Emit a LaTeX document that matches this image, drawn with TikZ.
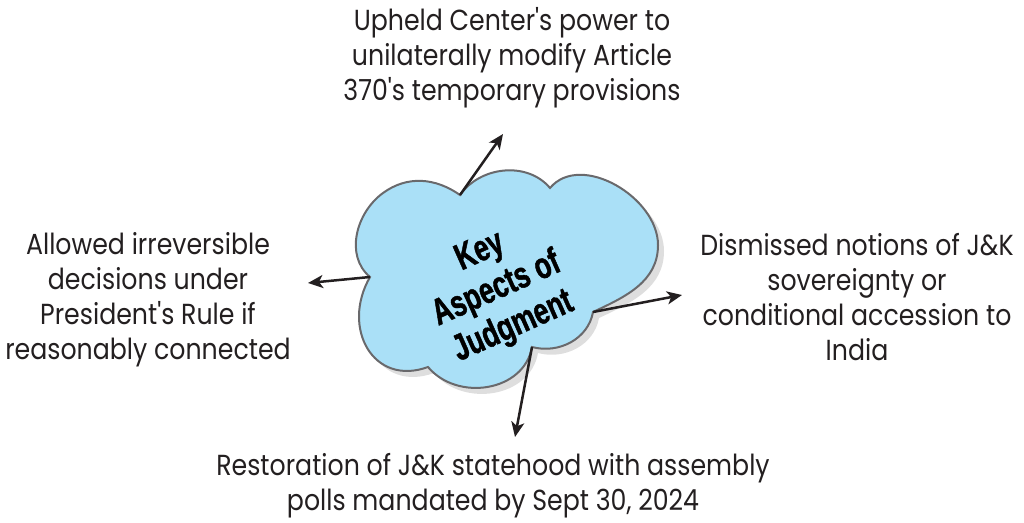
\documentclass[tikz,border=0pt]{standalone}
\usepackage{fontspec}
\setmainfont[FakeStretch=0.87,Ligatures=TeXOff]{Poppins}
\newfontfamily\cloudfont[FakeStretch=0.72,FakeBold=1.2]{Liberation Sans}
\usetikzlibrary{arrows.meta}
\definecolor{cloudblue}{RGB}{170,224,247}
\definecolor{cloudedge}{RGB}{105,105,108}
\definecolor{ink}{RGB}{35,31,32}
\definecolor{shadowgray}{RGB}{222,222,222}
\begin{document}
\begin{tikzpicture}[x=1pt,y=1pt,
  labeltext/.style={font=\fontsize{29}{35}\selectfont, text=ink, align=center, inner sep=0pt},
  conn/.style={draw=ink, line width=2.5pt, -{Stealth[length=15pt,width=13pt,inset=4pt]}},
  cloudfill/.style={fill=cloudblue, draw=cloudedge, line width=2pt},
  cloudshadow/.style={fill=shadowgray, transform canvas={shift={(6pt,-6pt)}}}
]
\useasboundingbox (0,0) rectangle (1024,-522);
% cloud cusps and lobe points
\coordinate (C1) at (460,-195);
\coordinate (C2) at (550,-188);
\coordinate (R1) at (658,-245);
\coordinate (C3) at (593,-312);
\coordinate (C4) at (532,-347);
\coordinate (C5) at (428,-367);
\coordinate (C6) at (370,-277);
\coordinate (M)  at (383,-193);
\def\cloudshape{(C1) to[out=55,in=130] (C2) to[out=50,in=90] (R1) to[out=-90,in=25] (C3)
  to[out=-100,in=-15] (C4) to[out=-100,in=-50,looseness=1.1] (C5)
  to[out=200,in=-120,looseness=1.4] (C6) to[out=140,in=-144] (M) to[out=36,in=145] (C1) -- cycle}
\path[cloudshadow] \cloudshape;
\path[cloudfill] \cloudshape;
\node[rotate=24, font=\cloudfont\bfseries\fontsize{37}{41}\selectfont, align=center, text=black] (title) at (497,-290) {Key\\Aspects of\\Judgment};
% texts
\node[labeltext] (top) at (512,-58) {Upheld Center's power to\\unilaterally modify Article\\370's temporary provisions};
\node[labeltext] (left) at (148,-300) {Allowed irreversible\\decisions under\\President's Rule if\\reasonably connected};
\node[labeltext] (right) at (857,-297) {Dismissed notions of J\&K\\sovereignty or\\conditional accession to\\India};
\node[labeltext] (bottom) at (493,-486) {Restoration of J\&K statehood with assembly\\polls mandated by Sept 30, 2024};
% arrow ends
\coordinate (tT) at (503,-134);
\coordinate (tL) at (308,-283);
\coordinate (tB) at (515,-437);
\coordinate (tR) at (682,-295);
\draw[conn] (C1) -- (tT);
\draw[conn] (C6) -- (tL);
\draw[conn] (C4) -- (tB);
\draw[conn] (C3) -- (tR);
\end{tikzpicture}
\end{document}
